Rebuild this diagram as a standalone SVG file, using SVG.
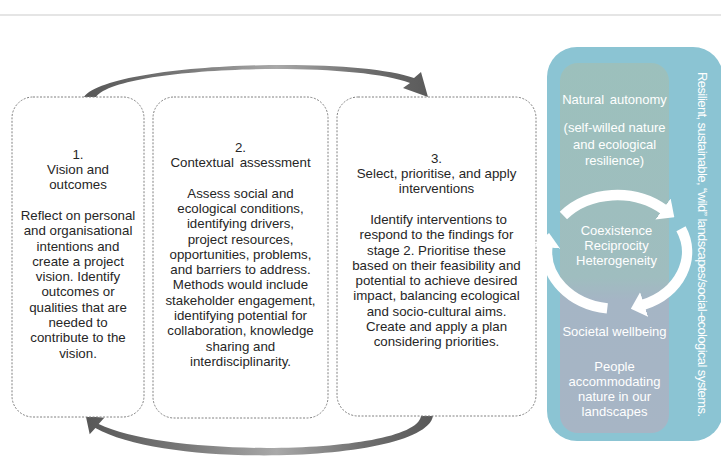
<svg xmlns="http://www.w3.org/2000/svg" width="721" height="457" viewBox="0 0 721 457">
<style>
.box{fill:#fff;stroke:#808080;stroke-width:1;stroke-dasharray:2 1.5}
.t{font-family:"Liberation Sans",Arial,sans-serif;font-size:13.3px;fill:#262626;text-anchor:middle}
.w{font-family:"Liberation Sans",Arial,sans-serif;font-size:13px;fill:#fff;text-anchor:middle}
.ring{fill:none;stroke:#fff;stroke-width:10.5;marker-end:url(#wh)}
</style>
<defs>
<linearGradient id="ag" gradientUnits="userSpaceOnUse" x1="85" y1="0" x2="433" y2="0">
<stop offset="0" stop-color="#575757"/>
<stop offset="0.3" stop-color="#7a7a7a"/>
<stop offset="0.55" stop-color="#a9a9a9"/>
<stop offset="0.8" stop-color="#6e6e6e"/>
<stop offset="1" stop-color="#595959"/>
</linearGradient>
<linearGradient id="ig" x1="0" y1="0" x2="0" y2="1">
<stop offset="0" stop-color="#9cc0bc"/>
<stop offset="0.58" stop-color="#9fbdbf"/>
<stop offset="0.64" stop-color="#a5b5c5"/>
<stop offset="1" stop-color="#a7b5c5"/>
</linearGradient>
<marker id="wh" viewBox="0 0 14 26" refX="1" refY="13" markerWidth="14" markerHeight="26" markerUnits="userSpaceOnUse" orient="auto">
<path d="M0,0 L14,13 L0,26 Z" fill="#fff"/>
</marker>
</defs>
<line x1="0" y1="15" x2="721" y2="15" stroke="#dcdcdc" stroke-width="1.5"/>

<g id="connectors">
<path id="arrow-top" fill="url(#ag)" d="M84,97 C110,63 350,55 414,78 L421,72 L428,97 L403,88 L410,83 C350,60 118,66 96,97 Z"/>
<path id="arrow-bottom" fill="url(#ag)" d="M421,416 L433,416 C425,462 170,470 95.4,427.9 L89.7,434.3 L85.8,416.1 L104.3,417.8 L98.7,424.1 C170,459 415,455 421,416 Z"/>
</g>

<g id="node1">
<rect class="box" x="12" y="97" width="132" height="320" rx="21"/>
<text class="t"><tspan x="78" y="158.7">1.</tspan><tspan x="78" y="174">Vision and</tspan><tspan x="78" y="189.3">outcomes</tspan><tspan x="78" y="219.9">Reflect on personal</tspan><tspan x="78" y="235.2">and organisational</tspan><tspan x="78" y="250.5">intentions and</tspan><tspan x="78" y="265.8">create a project</tspan><tspan x="78" y="281.1">vision. Identify</tspan><tspan x="78" y="296.4">outcomes or</tspan><tspan x="78" y="311.7">qualities that are</tspan><tspan x="78" y="327">needed to</tspan><tspan x="78" y="342.3">contribute to the</tspan><tspan x="78" y="357.6">vision.</tspan></text>
</g>

<g id="node2">
<rect class="box" x="153" y="97" width="175" height="321" rx="21"/>
<text class="t"><tspan x="240.5" y="151.7">2.</tspan><tspan x="240.5" y="167" style="word-spacing:2px">Contextual assessment</tspan><tspan x="240.5" y="197.6">Assess social and</tspan><tspan x="240.5" y="212.9">ecological conditions,</tspan><tspan x="240.5" y="228.2">identifying drivers,</tspan><tspan x="240.5" y="243.5">project resources,</tspan><tspan x="240.5" y="258.8">opportunities, problems,</tspan><tspan x="240.5" y="274.1">and barriers to address.</tspan><tspan x="240.5" y="289.4">Methods would include</tspan><tspan x="240.5" y="304.7">stakeholder engagement,</tspan><tspan x="240.5" y="320">identifying potential for</tspan><tspan x="240.5" y="335.3">collaboration, knowledge</tspan><tspan x="240.5" y="350.6">sharing and</tspan><tspan x="240.5" y="365.9">interdisciplinarity.</tspan></text>
</g>

<g id="node3">
<rect class="box" x="337" y="97" width="199" height="319" rx="21"/>
<text class="t"><tspan x="436.5" y="162.7">3.</tspan><tspan x="436.5" y="178">Select, prioritise, and apply</tspan><tspan x="436.5" y="193.3">interventions</tspan><tspan x="438.5" y="223.9">Identify interventions to</tspan><tspan x="436.5" y="239.2">respond to the findings for</tspan><tspan x="436.5" y="254.5">stage 2. Prioritise these</tspan><tspan x="436.5" y="269.8">based on their feasibility and</tspan><tspan x="436.5" y="285.1">potential to achieve desired</tspan><tspan x="436.5" y="300.4">impact, balancing ecological</tspan><tspan x="436.5" y="315.7">and socio-cultural aims.</tspan><tspan x="436.5" y="331">Create and apply a plan</tspan><tspan x="436.5" y="346.3">considering priorities.</tspan></text>
</g>

<g id="panel">
<rect x="547" y="47" width="176" height="394" rx="30" fill="#8bc4d3"/>
<rect x="560" y="63" width="109" height="370" rx="18" fill="url(#ig)"/>
<text class="w"><tspan x="614.5" y="104" style="word-spacing:2px">Natural autonomy</tspan><tspan x="614.5" y="132">(self-willed nature</tspan><tspan x="614.5" y="148.5">and ecological</tspan><tspan x="614.5" y="165">resilience)</tspan></text>
<text class="w"><tspan x="614.5" y="335.5">Societal wellbeing</tspan><tspan x="614.5" y="371">People</tspan><tspan x="614.5" y="386">accommodating</tspan><tspan x="614.5" y="401">nature in our</tspan><tspan x="614.5" y="416">landscapes</tspan></text>
<text class="w" style="text-anchor:start" transform="translate(697.5,72) rotate(90)" textLength="345" lengthAdjust="spacing">Resilient, sustainable, “wild” landscapes/social-ecological systems.</text>
</g>

<g id="cycle">
<path class="ring" d="M563.4,215.4 A70,57 0 0,1 663.8,209.6"/>
<path class="ring" d="M681,228.8 A70,57 0 0,1 643.2,304.8"/>
<path class="ring" d="M607.3,308.4 A70,57 0 0,1 547.4,246"/>
<text class="w"><tspan x="616.5" y="235">Coexistence</tspan><tspan x="616.5" y="250">Reciprocity</tspan><tspan x="616.5" y="265">Heterogeneity</tspan></text>
</g>
</svg>
